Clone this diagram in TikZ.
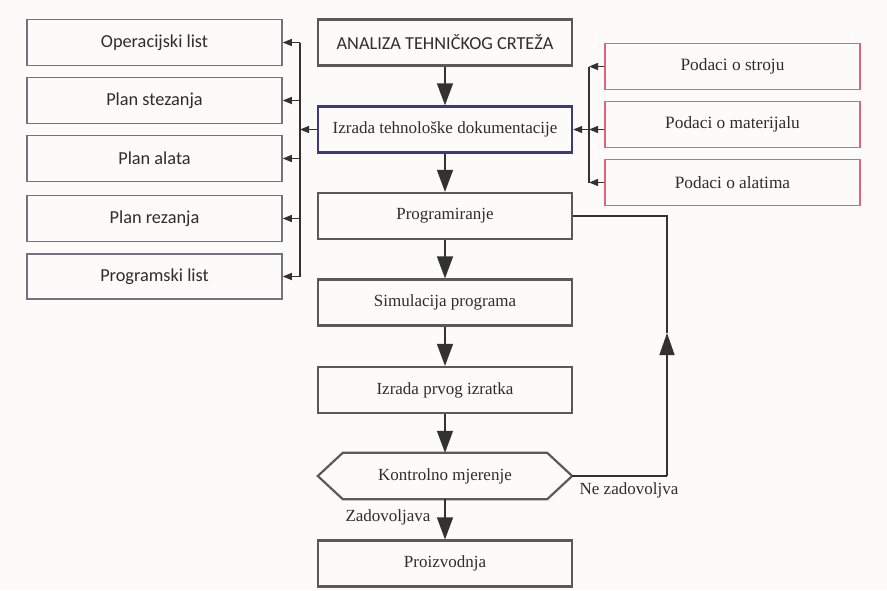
\documentclass[tikz,border=0pt]{standalone}
\usepackage{fontspec}
\setmainfont{Liberation Serif}
\newfontfamily\calfont{Carlito}
\usetikzlibrary{arrows.meta}
\definecolor{bg}{RGB}{252,251,250}
\definecolor{mainbd}{RGB}{90,90,90}
\definecolor{leftbd}{RGB}{112,115,132}
\definecolor{navybd}{RGB}{58,58,125}
\definecolor{pinkbd}{RGB}{226,100,122}
\definecolor{txt}{RGB}{45,45,45}
\definecolor{ln}{RGB}{50,50,50}
\begin{document}
\begin{tikzpicture}[x=1pt,y=-1pt,
  box/.style={draw=mainbd,line width=2.2pt,rectangle,minimum width=254pt,minimum height=46pt,inner sep=0pt,text=txt,font=\fontsize{17}{20}\selectfont},
  leftbox/.style={draw=leftbd,line width=1.5pt,rectangle,minimum width=255pt,minimum height=46pt,inner sep=0pt,text=txt,font=\calfont\fontsize{18.3}{21}\selectfont},
  rightbox/.style={draw=pinkbd,line width=1.4pt,rectangle,minimum width=255pt,minimum height=46pt,inner sep=0pt,text=txt,font=\fontsize{17.3}{20}\selectfont},
  bigarr/.style={draw=ln,line width=1.4pt,-{Triangle[length=22pt,width=16pt]}},
  smallarr/.style={draw=ln,line width=1.2pt,-{Triangle[length=9pt,width=7pt]}},
  plainln/.style={draw=ln,line width=1.2pt},
  lbl/.style={text=txt,font=\fontsize{17}{20}\selectfont,inner sep=0pt}
]
\fill[bg] (0,0) rectangle (887,590);
\useasboundingbox (0,0) rectangle (887,590);

% main column
\node[box,font=\calfont\fontsize{18.3}{21}\selectfont] (an) at (445,42.5) {ANALIZA TEHNIČKOG CRTEŽA};
\node[box,draw=navybd,line width=2.4pt] (td) at (445,129.5) {Izrada tehnološke dokumentacije};
\node[box] (pr) at (445,216) {Programiranje};
\node[box] (si) at (445,302.5) {Simulacija programa};
\node[box] (iz) at (445,390) {Izrada prvog izratka};
\node[minimum width=254pt,minimum height=46pt,inner sep=0pt,text=txt,font=\fontsize{17}{20}\selectfont] (km) at (445,476) {Kontrolno mjerenje};
\draw[draw=mainbd,line width=2.2pt,line join=miter] (km.west) -- ([xshift=25pt]km.north west) -- ([xshift=-25pt]km.north east) -- (km.east) -- ([xshift=-25pt]km.south east) -- ([xshift=25pt]km.south west) -- cycle;
\node[box] (po) at (445,563.5) {Proizvodnja};

% left column
\node[leftbox] (l1) at (154.5,42.5) {Operacijski list};
\node[leftbox] (l2) at (154.5,100.5) {Plan stezanja};
\node[leftbox] (l3) at (154.5,158.5) {Plan alata};
\node[leftbox] (l4) at (154.5,218.5) {Plan rezanja};
\node[leftbox,minimum height=45pt] (l5) at (154.5,276.5) {Programski list};

% right column
\node[rightbox] (r1) at (732.5,66.5) {Podaci o stroju};
\node[rightbox] (r2) at (732.5,124.5) {Podaci o materijalu};
\node[rightbox] (r3) at (732.5,182.5) {Podaci o alatima};

% main arrows
\draw[bigarr] (an) -- (td);
\draw[bigarr] (td) -- (pr);
\draw[bigarr] (pr) -- (si);
\draw[bigarr] (si) -- (iz);
\draw[bigarr] (iz) -- (km);
\draw[bigarr] (km) -- (po);

% left bracket
\coordinate (lb1) at (300,42.5);
\coordinate (lb5) at (300,276.5);
\coordinate (lbm) at (300,129.5);
\draw[plainln] (lb1) -- (lb5);
\draw[smallarr] (lb1) -- (l1.east);
\draw[smallarr] (300,100.5) -- (l2.east);
\draw[smallarr] (300,158.5) -- (l3.east);
\draw[smallarr] (300,218.5) -- (l4.east);
\draw[smallarr] (lb5) -- (l5.east);
\draw[smallarr] (td.west) -- (lbm);

% right bracket
\coordinate (rb1) at (589,66.5);
\coordinate (rbm) at (589,129.5);
\coordinate (rb3) at (589,182.5);
\draw[plainln] (rb1) -- (rb3);
\draw[smallarr] (r1.west) -- (rb1);
\draw[smallarr] (r2.west |- rbm) -- (rbm);
\draw[smallarr] (r3.west) -- (rb3);
\draw[smallarr] (rbm) -- (td.east);

% feedback loop
\coordinate (fb1) at (667,476);
\coordinate (fb2) at (667,333);
\coordinate (fb3) at (667,216);
\draw[plainln] (km.east) -- (fb1);
\draw[bigarr,-{Triangle[length=22pt,width=15pt]}] (fb1) -- (fb2);
\draw[plainln] (fb2) -- (fb3) -- (pr.east);

% labels
\node[lbl] (ne) at (629,490) {Ne zadovoljva};
\node[lbl] (za) at (388,517) {Zadovoljava};
\end{tikzpicture}
\end{document}
